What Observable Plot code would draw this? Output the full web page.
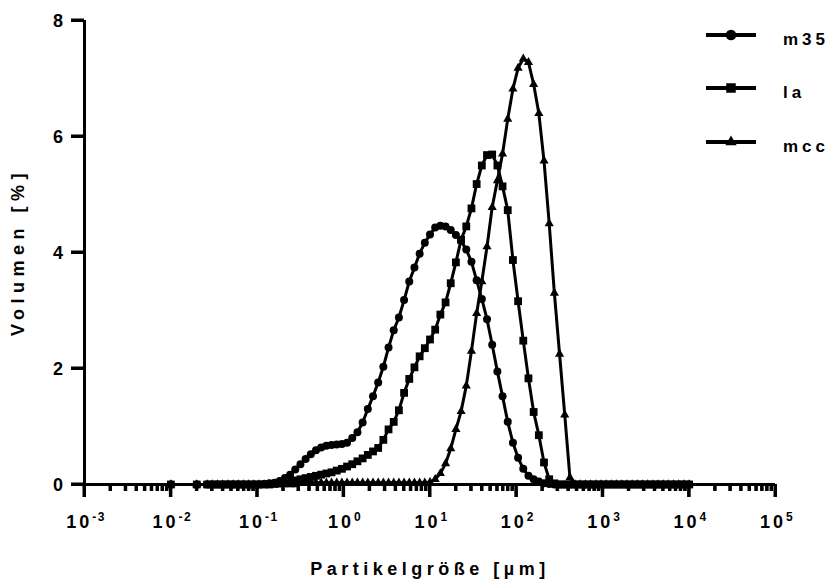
<!DOCTYPE html>
<html><head><meta charset="utf-8">
<script src="https://cdn.jsdelivr.net/npm/d3@7"></script>
<script src="https://cdn.jsdelivr.net/npm/@observablehq/plot@0.6"></script>
<style>
html,body{margin:0;padding:0;background:#fff;}
</style></head><body><div id="chart"></div>
<script>
// Particle size classes [µm]
const sizes = [0.01, 0.01995, 0.0263, 0.0302, 0.03467, 0.03981, 0.04571, 0.05248, 0.06026, 0.06918, 0.07943, 0.0912, 0.1047, 0.1202, 0.138, 0.1585, 0.182, 0.2089, 0.2399, 0.2754, 0.3162, 0.3631, 0.4169, 0.4786, 0.5495, 0.631, 0.7244, 0.8318, 0.955, 1.096, 1.259, 1.445, 1.66, 1.905, 2.188, 2.512, 2.884, 3.311, 3.802, 4.365, 5.012, 5.754, 6.607, 7.586, 8.71, 10, 11.48, 13.18, 15.14, 17.38, 19.95, 22.91, 26.3, 30.2, 34.67, 39.81, 45.71, 52.48, 60.26, 69.18, 79.43, 91.2, 104.7, 120.2, 138, 158.5, 182, 208.9, 239.9, 275.4, 316.2, 363.1, 416.9, 478.6, 549.5, 631, 724.4, 831.8, 955, 1096, 1259, 1445, 1660, 1905, 2188, 2512, 2884, 3311, 3802, 4365, 5012, 5754, 6607, 7586, 8710, 10000];

// Volume [%]
const m35 = [0, 0, 0, 0, 0, 0, 0, 0, 0, 0, 0, 0, 0, 0.01, 0.02, 0.03, 0.06, 0.11, 0.17, 0.26, 0.35, 0.44, 0.52, 0.59, 0.64, 0.67, 0.68, 0.69, 0.70, 0.72, 0.80, 0.90, 1.07, 1.30, 1.52, 1.76, 2.03, 2.36, 2.66, 2.88, 3.18, 3.50, 3.74, 3.98, 4.17, 4.31, 4.43, 4.46, 4.45, 4.39, 4.30, 4.20, 4.05, 3.84, 3.52, 3.20, 2.85, 2.41, 1.95, 1.52, 1.08, 0.72, 0.46, 0.27, 0.15, 0.09, 0.05, 0.02, 0.01, 0, 0, 0, 0, 0, 0, 0, 0, 0, 0, 0, 0, 0, 0, 0, 0, 0, 0, 0, 0, 0, 0, 0, 0, 0, 0, 0];

const la = [0, 0, 0, 0, 0, 0, 0, 0, 0, 0, 0, 0, 0, 0, 0, 0.01, 0.02, 0.03, 0.05, 0.07, 0.09, 0.11, 0.13, 0.15, 0.17, 0.19, 0.21, 0.24, 0.27, 0.31, 0.35, 0.40, 0.45, 0.51, 0.57, 0.63, 0.77, 0.95, 1.08, 1.28, 1.58, 1.82, 2.02, 2.21, 2.35, 2.50, 2.67, 2.93, 3.14, 3.47, 3.83, 4.22, 4.45, 4.76, 5.18, 5.50, 5.68, 5.69, 5.50, 5.14, 4.73, 3.87, 3.16, 2.48, 1.83, 1.25, 0.85, 0.38, 0.09, 0.02, 0, 0, 0, 0, 0, 0, 0, 0, 0, 0, 0, 0, 0, 0, 0, 0, 0, 0, 0, 0, 0, 0, 0, 0, 0, 0];

const mcc = [0, 0, 0, 0, 0, 0, 0, 0, 0, 0, 0, 0, 0, 0, 0, 0, 0, 0, 0, 0, 0.03, 0.03, 0.03, 0.03, 0.03, 0.03, 0.03, 0.03, 0.03, 0.03, 0.03, 0.03, 0.03, 0.03, 0.03, 0.03, 0.03, 0.03, 0.03, 0.03, 0.03, 0.03, 0.03, 0.03, 0.03, 0.04, 0.09, 0.19, 0.36, 0.62, 0.95, 1.26, 1.70, 2.30, 2.95, 3.50, 4.10, 4.78, 5.24, 5.70, 6.30, 6.82, 7.18, 7.34, 7.28, 6.90, 6.40, 5.58, 4.50, 3.30, 2.25, 1.20, 0.12, 0, 0, 0, 0, 0, 0, 0, 0, 0, 0, 0, 0, 0, 0, 0, 0, 0, 0, 0, 0, 0, 0, 0];

const seriesNames = ["m35", "la", "mcc"];
const seriesSymbols = ["circle", "square", "triangle"];
const yTicks = [0, 2, 4, 6, 8];
const yTickLabels = ["0", "2", "4", "6", "8"];
const xMajorTicks = [1e-3, 1e-2, 1e-1, 1e0, 1e1, 1e2, 1e3, 1e4, 1e5];
const xTickBase = "10";
const xTickExponents = ["-3", "-2", "-1", "0", "1", "2", "3", "4", "5"];
const xTitle = "Partikelgröße [µm]";
const yTitle = "Volumen [%]";

const xMinorTicks = [];
for (let d = -3; d < 5; d++) for (let k = 2; k <= 9; k++) xMinorTicks.push(k * Math.pow(10, d));

const seriesValues = [m35, la, mcc];
const series = seriesNames.map((name, s) => sizes.map((x, i) => ({x, y: seriesValues[s][i], name})));

const FONT = "'Liberation Sans', Arial, Helvetica, sans-serif";
const dotR = {circle: 4, square: 4.4, triangle: 3.4};

const marks = [
  Plot.ruleX(xMinorTicks, {x: d => d, y1: 0, y2: 0, insetBottom: -7, strokeWidth: 3, stroke: "#000"}),
  Plot.ruleX(xMajorTicks, {x: d => d, y1: 0, y2: 0, insetBottom: -13, strokeWidth: 3, stroke: "#000"}),
  Plot.ruleY(yTicks, {y: d => d, x1: 1e-3, x2: 1e-3, insetLeft: -13, strokeWidth: 3, stroke: "#000"}),
  Plot.ruleY([0], {strokeWidth: 3, stroke: "#000"}),
  Plot.ruleX([1e-3], {strokeWidth: 3, stroke: "#000", y1: 0, y2: 8})
];
series.forEach(d => marks.push(Plot.line(d, {x: "x", y: "y", stroke: "#000", strokeWidth: 3, strokeLinejoin: "round"})));
series.forEach((d, s) => marks.push(Plot.dot(d, {x: "x", y: "y", symbol: seriesSymbols[s], fill: "#000", stroke: "none", r: dotR[seriesSymbols[s]]})));

const chart = Plot.plot({
  width: 833, height: 580,
  marginLeft: 84, marginRight: 58, marginTop: 20, marginBottom: 96,
  x: {type: "log", domain: [1e-3, 1e5], axis: null},
  y: {domain: [0, 8], axis: null},
  marks
});
document.getElementById("chart").appendChild(chart);

const svg = d3.select(chart);
const xs = chart.scale("x"), ys = chart.scale("y");
const y0 = ys.apply(0), x0 = xs.apply(1e-3);

const g = svg.append("g").attr("font-family", FONT).attr("font-weight", "bold").attr("fill", "#000").attr("text-anchor", "start");

// x tick labels with superscript exponents
xMajorTicks.forEach((v, i) => {
  const x = xs.apply(v);
  const t = g.append("text").attr("x", x + 2).attr("y", 528).attr("text-anchor", "middle").attr("font-size", 18);
  t.append("tspan").attr("letter-spacing", 3).text(xTickBase);
  t.append("tspan").attr("font-size", 12).attr("dy", -7).attr("letter-spacing", 1.5).text(xTickExponents[i]);
});

// y tick labels
yTicks.forEach((v, i) => {
  g.append("text").attr("x", x0 - 21).attr("y", ys.apply(v) + 6.5).attr("text-anchor", "end").attr("font-size", 18).text(yTickLabels[i]);
});

// axis titles
g.append("text").attr("x", 430).attr("y", 575).attr("text-anchor", "middle").attr("font-size", 18)
  .attr("letter-spacing", 4.5).text(xTitle);
g.append("text").attr("transform", "translate(24,252) rotate(-90)").attr("text-anchor", "middle").attr("font-size", 18)
  .attr("letter-spacing", 5.5).text(yTitle);

// legend
const legendY = [35, 88, 142];
const symTypes = {circle: [d3.symbolCircle, 90], square: [d3.symbolSquare, 90], triangle: [d3.symbolTriangle, 55]};
seriesNames.forEach((name, s) => {
  const y = legendY[s];
  g.append("line").attr("x1", 706).attr("x2", 756).attr("y1", y).attr("y2", y).attr("stroke", "#000").attr("stroke-width", 4);
  const [type, size] = symTypes[seriesSymbols[s]];
  g.append("path").attr("d", d3.symbol().type(type).size(size)()).attr("transform", `translate(731,${y})`).attr("fill", "#000");
  g.append("text").attr("x", 783).attr("y", y + 10).attr("text-anchor", "start").attr("font-size", 17).attr("letter-spacing", 4).text(name);
});

// tick marks as filled rectangles (scale positions)
const tg = svg.append("g").attr("fill", "#000");
xMinorTicks.forEach(v => { const x = xs.apply(v); tg.append("rect").attr("x", x - 1.5).attr("y", y0).attr("width", 3).attr("height", 7); });
xMajorTicks.forEach(v => { const x = xs.apply(v); tg.append("rect").attr("x", x - 1.5).attr("y", y0).attr("width", 3).attr("height", 13); });
yTicks.forEach(v => { const y = ys.apply(v); tg.append("rect").attr("x", x0 - 13).attr("y", y - 1.5).attr("width", 13).attr("height", 3); });
</script></body></html>
